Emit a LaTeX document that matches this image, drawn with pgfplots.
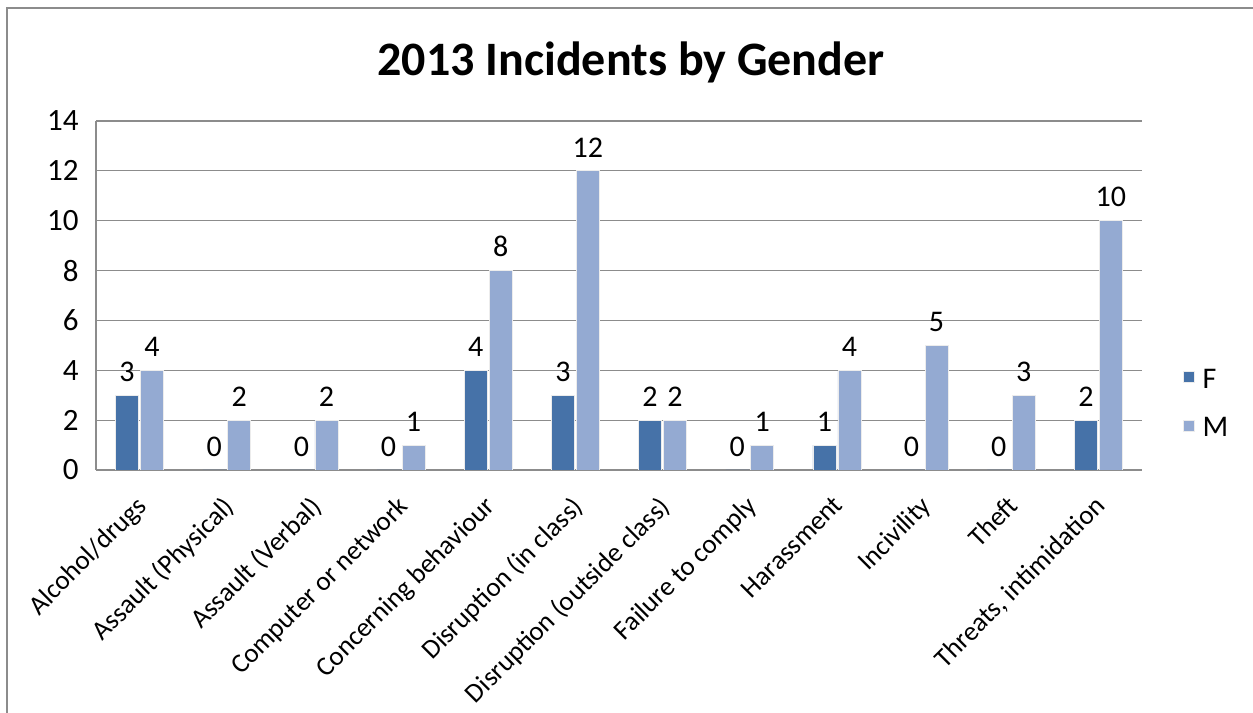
\documentclass[border=0pt]{standalone}
\usepackage{fontspec}
\setmainfont{Carlito}
\usepackage{pgfplots}
\pgfplotsset{compat=1.18}
\definecolor{fcol}{HTML}{4672A8}
\definecolor{mcol}{HTML}{94AAD2}
\definecolor{gridc}{HTML}{8C8C8C}
\begin{document}
\begin{tikzpicture}[x=1bp,y=1bp]
\path[use as bounding box] (0,0) rectangle (1253,713);
\draw[gridc, line width=1.5bp] (7,0) -- (7,705) -- (1253,705);
\node[font=\fontsize{48bp}{56bp}\bfseries\selectfont] at (631,651) {2013 Incidents by Gender};
\begin{axis}[
  at={(96bp,243bp)}, anchor=south west,
  scale only axis, width=1046bp, height=349bp,
  ymin=0, ymax=14, xmin=-0.5, xmax=11.5,
  ytick={0,2,...,14},
  xtick={0,...,11},
  xticklabels={Alcohol/drugs,Assault (Physical),Assault (Verbal),Computer or network,Concerning behaviour,Disruption (in class),Disruption (outside class),Failure to comply,Harassment,Incivility,Theft,{Threats, intimidation}},
  x tick label style={xshift=-5bp, yshift=-20bp, rotate=45, anchor=north east, font=\fontsize{27bp}{31bp}\selectfont, inner sep=3bp},
  y tick label style={font=\fontsize{31bp}{35bp}\selectfont, xshift=-14bp},
  /pgf/number format/assume math mode=true,
  major tick length=0pt,
  axis lines*=left,
  axis line style={gridc, line width=1.2bp, -},
  ymajorgrids, grid style={gridc, line width=1.2bp},
  ybar=2bp, bar width=23bp,
  nodes near coords,
  nodes near coords style={font=\fontsize{30bp}{34bp}\selectfont, yshift=10bp},
  legend style={at={(1.036,0.19)}, anchor=west, draw=none, fill=none, font=\fontsize{30bp}{34bp}\selectfont, row sep=24bp, /tikz/every odd column/.append style={column sep=6bp}},
  legend image code/.code={\fill[#1] (0bp,-3bp) rectangle (11bp,8bp);},
  legend cell align=left,
]
\addplot[fill=fcol, draw=white!85!gray, line width=0.8bp] table[row sep=\\] {
x y\\ 0 3\\ 1 0\\ 2 0\\ 3 0\\ 4 4\\ 5 3\\ 6 2\\ 7 0\\ 8 1\\ 9 0\\ 10 0\\ 11 2\\
};
\addplot[fill=mcol, draw=white!85!gray, line width=0.8bp] table[row sep=\\] {
x y\\ 0 4\\ 1 2\\ 2 2\\ 3 1\\ 4 8\\ 5 12\\ 6 2\\ 7 1\\ 8 4\\ 9 5\\ 10 3\\ 11 10\\
};
\legend{F,M}
\end{axis}
\end{tikzpicture}
\end{document}
